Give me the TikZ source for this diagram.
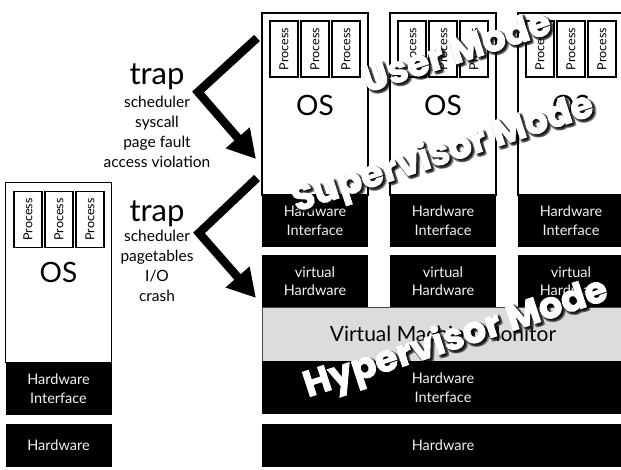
\documentclass[tikz,border=0pt]{standalone}
\usepackage{fontspec}
\setmainfont{Lato}
\newfontfamily\modefont{Poppins}[BoldFeatures={FakeBold=2.4}]
\usetikzlibrary{arrows.meta, positioning}
\definecolor{MonitorGray}{HTML}{DCDCDC}
\definecolor{MonitorEdge}{HTML}{4A4A4A}
\definecolor{LabelWhite}{HTML}{F2F2F2}
\tikzset{
  osbox/.style={draw=black, line width=1.6pt, fill=white, minimum width=106pt,
                minimum height=182pt, inner sep=0pt},
  process/.style={draw=black, line width=1.6pt, fill=white, rotate=90,
                  minimum width=56pt, minimum height=28pt, inner sep=0pt,
                  font=\fontsize{12.5}{13}\selectfont},
  oslabel/.style={font=\fontsize{28}{30}\selectfont, inner sep=0pt},
  blackbox/.style={fill=black, text=LabelWhite, align=center, inner sep=0pt,
                   minimum width=106pt, minimum height=52pt,
                   font=\fontsize{14.5}{19}\selectfont},
  monitor/.style={fill=MonitorGray, draw=MonitorEdge, line width=0.6pt,
                  inner sep=0pt, font=\fontsize{21}{22}\selectfont},
  trapword/.style={font=\fontsize{31}{32}\selectfont, anchor=base, inner sep=0pt},
  traplist/.style={font=\fontsize{15.5}{20}\selectfont, align=center,
                   anchor=north, inner sep=0pt},
  traparrow/.style={line width=8.5pt, miter limit=10,
                    -{Triangle[length=28pt, width=30pt]}},
  modeword/.style={font=\modefont\bfseries\fontsize{36.5}{37}\selectfont,
                   text=white, rotate=18, inner sep=0pt},
  modeshadow/.style={modeword, text=black, opacity=0.25},
}

\begin{document}
\begin{tikzpicture}[x=1pt, y=-1pt]
    \useasboundingbox (0,0) rectangle (621,470);
    \clip (0,0) rectangle (621,470);

    % Plain machine
    \node[osbox, minimum height=180pt] (os0) at (58.5,272.5) {};
    \node[process] (proc01) at (28,219.5) {Process};
    \node[process] (proc02) at (59,219.5) {Process};
    \node[process] (proc03) at (90,219.5) {Process};
    \node[oslabel] (oslbl0) at (58.5,272) {OS};
    \node[blackbox] (hwi0) at (58.5,389) {Hardware\\Interface};
    \node[blackbox, minimum height=43pt] (hw0) at (58.5,445.5) {Hardware};

    % Guests - expanded manually
    \node[osbox] (os1) at (315,104) {};
    \node[process] (proc11) at (284,49) {Process};
    \node[process] (proc12) at (315,49) {Process};
    \node[process] (proc13) at (346,49) {Process};
    \node[oslabel] (oslbl1) at (315,105) {OS};
    \node[blackbox] (hwi1) at (315,221) {Hardware\\Interface};
    \node[blackbox, font=\fontsize{14.5}{18}\selectfont] (vhw1) at (315,281) {virtual\\Hardware};

    \node[osbox] (os2) at (443,104) {};
    \node[process] (proc21) at (412,49) {Process};
    \node[process] (proc22) at (443,49) {Process};
    \node[process] (proc23) at (474,49) {Process};
    \node[oslabel] (oslbl2) at (443,105) {OS};
    \node[blackbox] (hwi2) at (443,221) {Hardware\\Interface};
    \node[blackbox, font=\fontsize{14.5}{18}\selectfont] (vhw2) at (443,281) {virtual\\Hardware};

    \node[osbox] (os3) at (571,104) {};
    \node[process] (proc31) at (540,49) {Process};
    \node[process] (proc32) at (571,49) {Process};
    \node[process] (proc33) at (602,49) {Process};
    \node[oslabel] (oslbl3) at (571,105) {OS};
    \node[blackbox] (hwi3) at (571,221) {Hardware\\Interface};
    \node[blackbox, font=\fontsize{14.5}{18}\selectfont] (vhw3) at (571,281) {virtual\\Hardware};

    % Host side
    \node[monitor, minimum width=362pt, minimum height=54pt] (vmm) at (443,334) {Virtual Machine Monitor};
    \node[blackbox, minimum width=362pt, minimum height=53pt] (hwi) at (443,387.5) {Hardware\\Interface};
    \node[blackbox, minimum width=362pt, minimum height=43pt] (hw) at (443,445.5) {Hardware};

    % Traps
    \node[trapword] (trap1) at (157,85) {trap};
    \node[traplist] (causes1) at (157,96) {scheduler\\syscall\\page fault\\access violation};
    \node[trapword] (trap2) at (157,222) {trap};
    \node[traplist] (causes2) at (157,230) {scheduler\\pagetables\\I/O\\crash};

    \coordinate (trap1from) at (257,38);
    \coordinate (trap1bend) at (198,92);
    \coordinate (trap1to) at (256,159);
    \draw[traparrow] (trap1from) -- (trap1bend) -- (trap1to);

    \coordinate (trap2from) at (257,178);
    \coordinate (trap2bend) at (199,233);
    \coordinate (trap2to) at (256,298);
    \draw[traparrow] (trap2from) -- (trap2bend) -- (trap2to);

    % Mode labels
    \foreach \dx/\dy [count=\k] in {1/-2, 2/-3, 3/-2, 2/-1, 0/-1, 3/-4, 1/-4, 0/-3} {
        \node[modeshadow, xshift=\dx pt, yshift=\dy pt] (usershadow\k) at (456,50) {User Mode};
        \node[modeshadow, xshift=\dx pt, yshift=\dy pt] (supershadow\k) at (443,154) {Supervisor Mode};
        \node[modeshadow, xshift=\dx pt, yshift=\dy pt] (hypershadow\k) at (456,339) {Hypervisor Mode};
    }
    \node[modeword] (usermode) at (456,50) {User Mode};
    \node[modeword] (supermode) at (443,154) {Supervisor Mode};
    \node[modeword] (hypermode) at (456,339) {Hypervisor Mode};
\end{tikzpicture}
\end{document}
